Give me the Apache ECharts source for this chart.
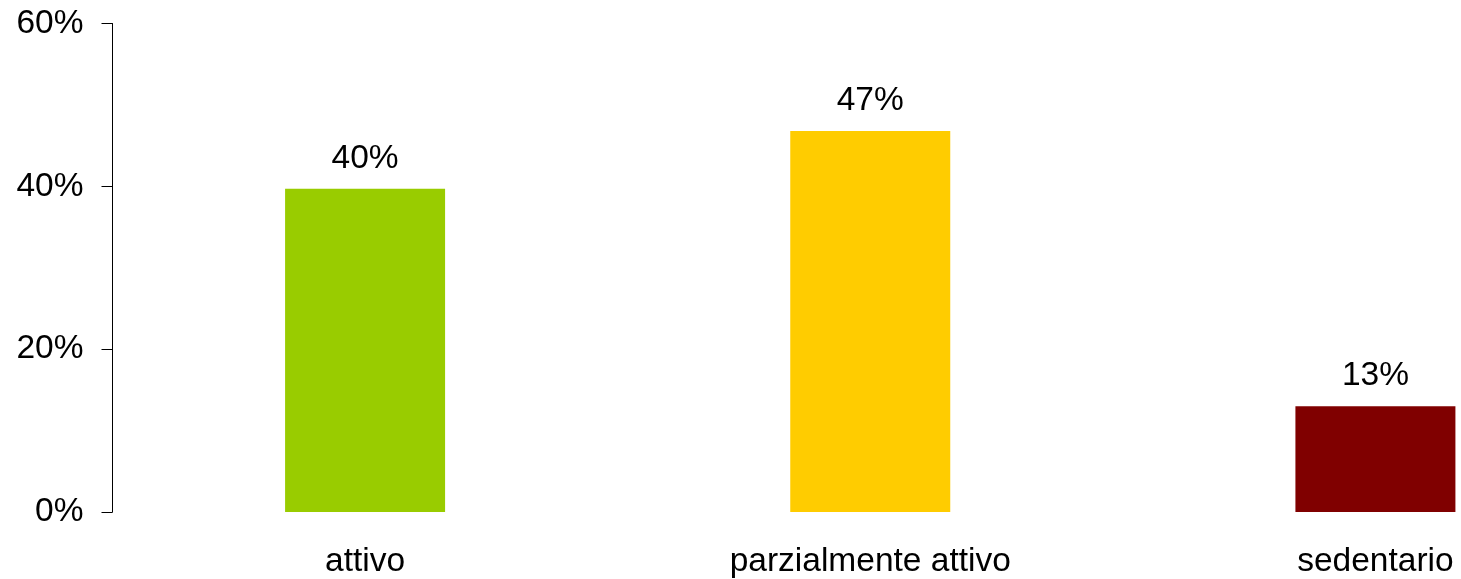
<!DOCTYPE html>
<html>
<head>
<meta charset="utf-8">
<script src="https://cdn.jsdelivr.net/npm/echarts@6/dist/echarts.min.js"></script>
<style>html,body{margin:0;padding:0;background:#fff}#c{width:1461px;height:579px}</style>
</head>
<body>
<div id="c"></div>
<script>
const categories = ['attivo', 'parzialmente attivo', 'sedentario'];
const values = [39.7, 46.8, 13.0];
const labels = ['40%', '47%', '13%'];
const colors = ['#99cc00', '#ffcc00', '#800000'];

const chart = echarts.init(document.getElementById('c'));
chart.setOption({
  animation: false,
  grid: { left: 112.5, top: 23.5, bottom: 67, right: -167, containLabel: false, outerBoundsMode: 'none' },
  xAxis: {
    type: 'category',
    data: categories,
    axisLine: { show: false },
    axisTick: { show: false },
    axisLabel: { color: '#000', fontFamily: 'Liberation Sans, Arial', fontSize: 33.5, margin: 33 }
  },
  yAxis: {
    type: 'value', min: 0, max: 60, interval: 20,
    axisLine: { show: true, lineStyle: { color: '#000', width: 1 } },
    axisTick: { show: true, length: 11, lineStyle: { color: '#000', width: 1 } },
    splitLine: { show: false },
    axisLabel: { color: '#000', fontFamily: 'Liberation Sans, Arial', fontSize: 33.5, margin: 29, formatter: v => v + '%' }
  },
  series: [{
    type: 'bar',
    barWidth: 160,
    data: values.map((v, i) => ({ value: v, itemStyle: { color: colors[i] } })),
    label: {
      show: true, position: 'top', distance: 13,
      color: '#000', fontFamily: 'Liberation Sans, Arial', fontSize: 33.5,
      formatter: p => labels[p.dataIndex]
    }
  }]
});
</script>
</body>
</html>
